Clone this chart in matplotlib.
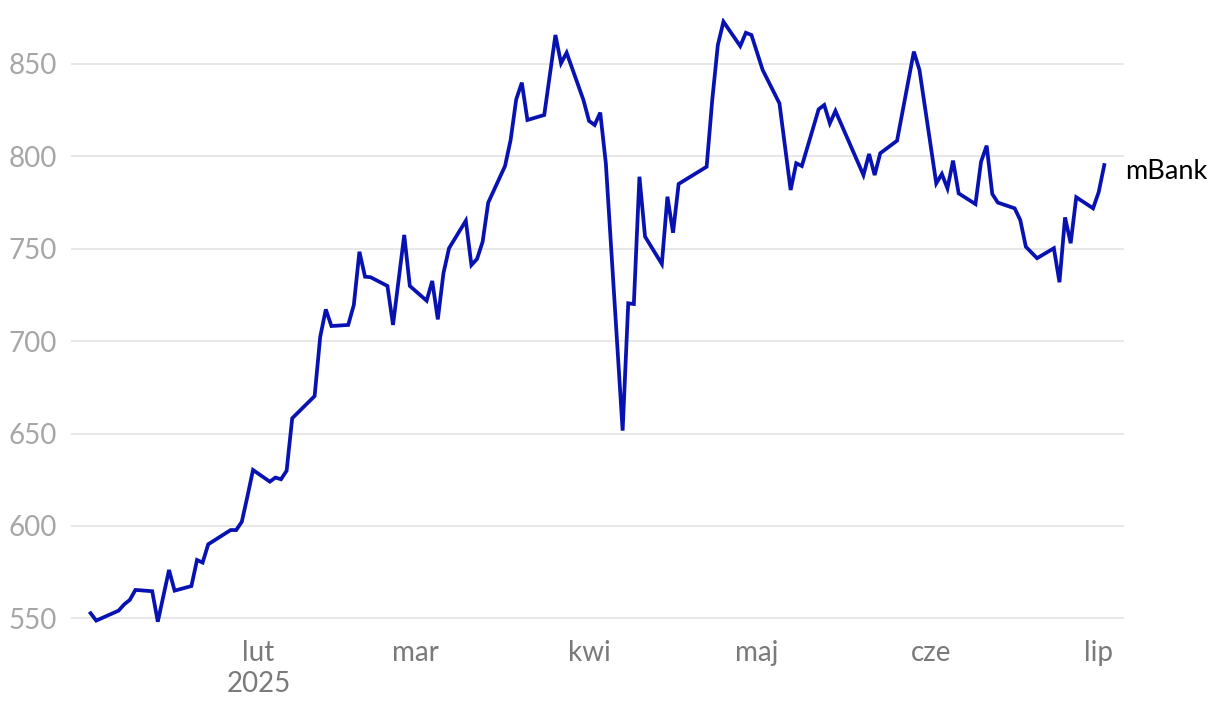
import pandas as pd
import matplotlib.pyplot as plt
import matplotlib.dates as mdates
import matplotlib.transforms as mtransforms

# mBank share price, 2025
dates = [
    "2025-01-02", "2025-01-03", "2025-01-07", "2025-01-08", "2025-01-09", "2025-01-10",
    "2025-01-13", "2025-01-14", "2025-01-16", "2025-01-17", "2025-01-20", "2025-01-21",
    "2025-01-22", "2025-01-23", "2025-01-27", "2025-01-28", "2025-01-29", "2025-01-30",
    "2025-01-31", "2025-02-03", "2025-02-04", "2025-02-05", "2025-02-06", "2025-02-07",
    "2025-02-11", "2025-02-12", "2025-02-13", "2025-02-14", "2025-02-17", "2025-02-18",
    "2025-02-19", "2025-02-20", "2025-02-21", "2025-02-24", "2025-02-25", "2025-02-27",
    "2025-02-28", "2025-03-03", "2025-03-04", "2025-03-05", "2025-03-06", "2025-03-07",
    "2025-03-10", "2025-03-11", "2025-03-12", "2025-03-13", "2025-03-14", "2025-03-17",
    "2025-03-18", "2025-03-19", "2025-03-20", "2025-03-21", "2025-03-24", "2025-03-26",
    "2025-03-27", "2025-03-28", "2025-03-31", "2025-04-01", "2025-04-02", "2025-04-03",
    "2025-04-04", "2025-04-07", "2025-04-08", "2025-04-09", "2025-04-10", "2025-04-11",
    "2025-04-14", "2025-04-15", "2025-04-16", "2025-04-17", "2025-04-22", "2025-04-23",
    "2025-04-24", "2025-04-25", "2025-04-28", "2025-04-29", "2025-04-30", "2025-05-02",
    "2025-05-05", "2025-05-07", "2025-05-08", "2025-05-09", "2025-05-12", "2025-05-13",
    "2025-05-14", "2025-05-15", "2025-05-20", "2025-05-21", "2025-05-22", "2025-05-23",
    "2025-05-26", "2025-05-29", "2025-05-30", "2025-06-02", "2025-06-03", "2025-06-04",
    "2025-06-05", "2025-06-06", "2025-06-09", "2025-06-10", "2025-06-11", "2025-06-12",
    "2025-06-13", "2025-06-16", "2025-06-17", "2025-06-18", "2025-06-20", "2025-06-23",
    "2025-06-24", "2025-06-25", "2025-06-26", "2025-06-27", "2025-06-30", "2025-07-01",
    "2025-07-02",
]
prices = [
    552.8, 548.8, 554.2, 557.6, 560.0, 565.4,
    564.7, 548.2, 576.2, 565.0, 567.5, 581.6,
    580.2, 590.1, 597.8, 597.8, 602.3, 616.0,
    630.3, 624.0, 626.2, 625.3, 629.9, 658.3,
    670.3, 702.4, 717.2, 708.2, 708.8, 719.6,
    748.4, 734.9, 734.6, 729.9, 708.8, 757.5,
    729.9, 721.9, 732.6, 711.8, 736.7, 750.3,
    765.2, 741.2, 744.5, 753.8, 775.0, 794.8,
    808.9, 830.9, 839.9, 819.7, 822.4, 865.7,
    850.4, 856.1, 830.5, 819.2, 817.0, 823.7,
    796.3, 651.6, 720.5, 720.1, 789.0, 756.6,
    741.8, 778.2, 758.7, 785.1, 794.4, 830.5,
    860.3, 872.9, 859.7, 866.9, 865.7, 846.8,
    828.7, 781.8, 796.3, 794.8, 825.5, 827.8,
    817.9, 824.6, 789.9, 801.3, 789.9, 801.7,
    808.5, 856.7, 846.8, 785.4, 790.5, 782.7,
    797.7, 780.0, 774.2, 797.1, 805.8, 779.7,
    775.0, 771.9, 765.6, 751.1, 744.9, 750.3,
    731.9, 767.0, 753.0, 777.9, 771.9, 780.6,
    795.3,
]
series_name = "mBank"

month_ticks = ["2025-02-01", "2025-03-01", "2025-04-01", "2025-05-01", "2025-06-01", "2025-07-01"]
month_labels = ["lut\n2025", "mar", "kwi", "maj", "cze", "lip"]
y_ticks = [550, 600, 650, 700, 750, 800, 850]

plt.rcParams['font.family'] = ['Lato', 'DejaVu Sans']

x = pd.to_datetime(dates)

fig = plt.figure(figsize=(12.2, 7.12), dpi=100)
ax = fig.add_axes([0.0582, 0.1185, 0.863, 0.8565])

ax.plot(x, prices, color='#0812b2', linewidth=2.7, solid_joinstyle='miter', zorder=3)

# axis ranges
start = mdates.date2num(pd.Timestamp("2025-01-01"))
ax.set_xlim(start - 2.5, start + 185.5)
ax.set_ylim(545, 875)

ax.set_yticks(y_ticks)
ax.set_xticks(pd.to_datetime(month_ticks))
ax.set_xticklabels(month_labels, linespacing=1.25)

ax.tick_params(axis='y', length=0, pad=10, labelsize=20, labelcolor='#a6a6a6')
ax.tick_params(axis='x', length=0, pad=9, labelsize=20, labelcolor='#7a7a7a')

ax.grid(axis='y', color='#e4e4e4', linewidth=1.2)
ax.grid(axis='x', visible=False)
ax.set_axisbelow(True)
for s in ax.spines.values():
    s.set_visible(False)

# series label at the end of the line
trans = mtransforms.blended_transform_factory(ax.transAxes, ax.transData)
ax.text(1.001, prices[-1] - 3.5, series_name, transform=trans, ha='left', va='center',
        fontsize=19.5, color='black')

fig.savefig("out.png", dpi=100)
